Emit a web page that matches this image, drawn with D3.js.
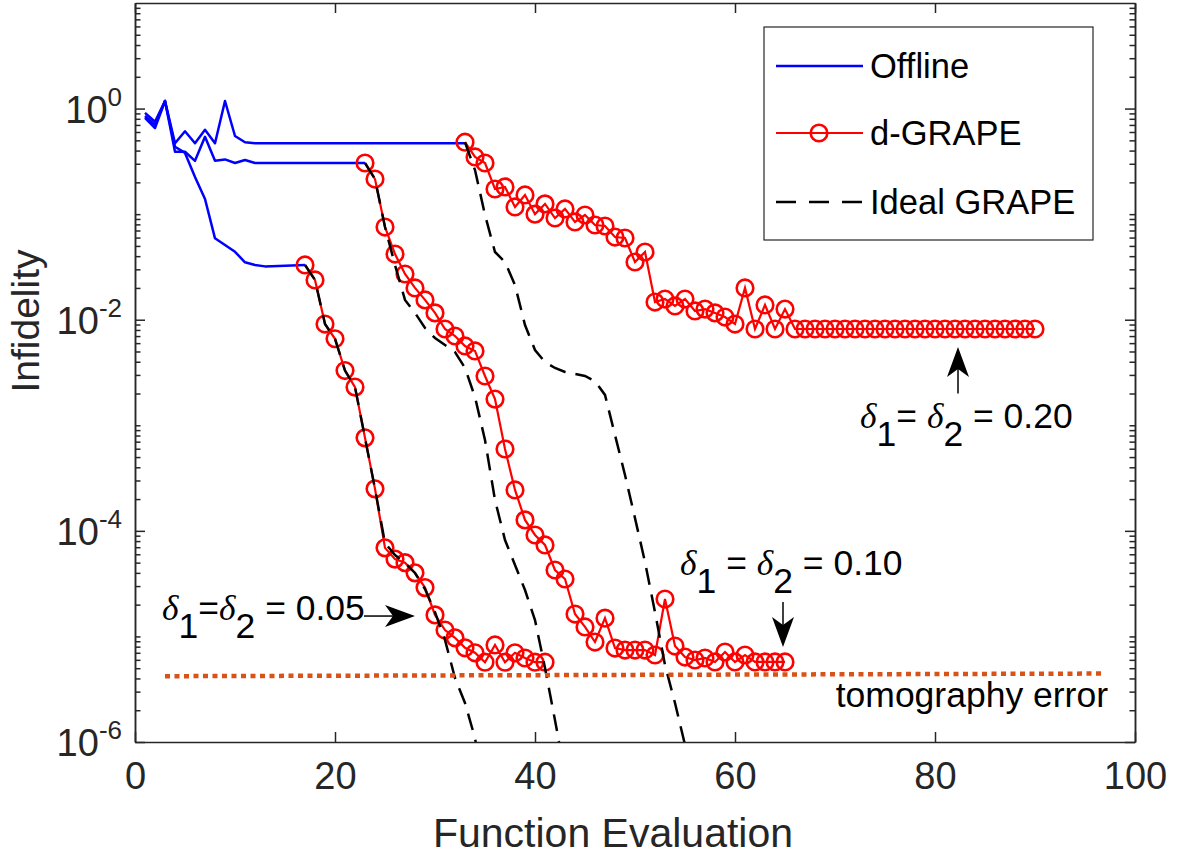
<!DOCTYPE html>
<html>
<head>
<meta charset="utf-8">
<script src="https://cdn.jsdelivr.net/npm/d3@7"></script>
<style>
  body { margin: 0; background: #fff; }
  text { font-family: "Liberation Sans", Arial, Helvetica, sans-serif; fill: #262626; }
</style>
</head>
<body>
<svg id="chart" width="1177" height="855"></svg>
<script>
// ---- data ----
// Offline runs: [x, infidelity] vertices
var offlineA = [[1,0.91],[2,0.75],[3,1.18],[4,0.47],[5,0.61],[6,0.47],[7,0.63],[8,0.47],[9,1.18],[10,0.55],[11,0.48],[12,0.47],[33,0.47]];
var offlineB = [[1,0.85],[2,0.70],[3,1.18],[4,0.39],[5,0.39],[6,0.32],[7,0.54],[8,0.32],[9,0.33],[10,0.305],[11,0.326],[12,0.305],[23,0.305]];
var offlineC = [[1,0.815],[2,0.654],[3,1.18],[4,0.435],[5,0.38],[6,0.225],[7,0.139],[8,0.059],[9,0.051],[10,0.044],[11,0.035],[12,0.033],[13,0.032],[17,0.033]];

// d-GRAPE runs, one point per function evaluation starting at *_start
var dgrape1_start = 17;
var dgrape1 = [0.033,0.0238,0.0091,0.0066,0.0033,0.0023,7.6e-4,2.5e-4,6.9e-5,5.4e-5,5.0e-5,4.0e-5,2.9e-5,1.6e-5,1.15e-5,9.7e-6,7.8e-6,7.0e-6,5.7e-6,8.3e-6,5.7e-6,7.0e-6,6.25e-6,5.7e-6,5.7e-6];
var dgrape2_start = 23;
var dgrape2 = [0.305,0.215,0.0755,0.0419,0.0271,0.0200,0.0154,0.0116,0.00817,0.00701,0.00564,0.00506,0.00293,0.00177,5.96e-4,2.44e-4,1.27e-4,9.14e-5,7.35e-5,4.26e-5,3.50e-5,1.63e-5,1.23e-5,8.85e-6,1.49e-5,7.76e-6,7.43e-6,7.43e-6,7.43e-6,6.67e-6,2.26e-5,8.11e-6,6.38e-6,5.98e-6,6.25e-6,5.73e-6,7.12e-6,5.73e-6,6.67e-6,5.73e-6,5.73e-6,5.73e-6,5.73e-6];
var dgrape3_start = 33;
var dgrape3 = [0.48,0.348,0.305,0.173,0.181,0.117,0.152,0.100,0.125,0.0919,0.112,0.0843,0.0982,0.0789,0.0772,0.0607,0.0594,0.0352,0.0438,0.0147,0.0157,0.0135,0.0157,0.0121,0.0126,0.0116,0.0106,0.0091,0.0200,0.00817,0.0138,0.00817,0.0126,
  0.00817,0.00817,0.00817,0.00817,0.00817,0.00817,0.00817,0.00817,0.00817,0.00817,0.00817,0.00817,0.00817,0.00817,0.00817,0.00817,0.00817,0.00817,0.00817,0.00817,0.00817,0.00817,0.00817,0.00817,0.00817];

// ideal GRAPE runs
var ideal1_start = 17;
var ideal1 = [0.033,0.0238,0.0091,0.0066,0.0033,0.0023,7.6e-4,2.5e-4,7.67e-5,5.9e-5,4.96e-5,3.99e-5,2.81e-5,1.70e-5,9.25e-6,4.04e-6,2.34e-6,1.09e-6,3e-7];
var ideal2_start = 23;
var ideal2 = [0.305,0.215,0.0755,0.033,0.0154,0.0116,0.00834,0.00671,0.00576,0.00494,0.00349,0.00185,7.26e-4,1.96e-4,8.19e-5,4.75e-5,2.75e-5,1.43e-5,5.02e-6,1.61e-6,4.9e-7];
var ideal3_start = 33;
var ideal3 = [0.48,0.262,0.0982,0.0438,0.0352,0.0213,0.0089,0.00516,0.00397,0.00349,0.0032,0.00306,0.00293,0.00262,0.00194,8.09e-4,3.38e-4,1.32e-4,5.07e-5,1.70e-5,5.36e-6,2.34e-6,9.4e-7];

// tomography error level
var tomoX = [3, 97];
var tomoY = [4.2e-6, 4.45e-6];

var xTicks = [0, 20, 40, 60, 80, 100];
var yExps = [0, -2, -4, -6];
var legendNames = ["Offline", "d-GRAPE", "Ideal GRAPE"];

// ---- layout ----
var svg = d3.select("#chart");
var mLeft = 135, mRight = 1135, mTop = 3, mBottom = 742;
var axisColor = "#262626";
var tickFs = 38, labelFs = 41, legendFs = 34.5, noteFs = 35.5;

var x = d3.scaleLinear().domain([0, 100]).range([mLeft, mRight]);
var y = d3.scaleLog().domain([1e-6, 10]).range([mBottom, mTop]);

function toPts(start, arr) {
  return arr.map(function(v, i) { return [start + i, v]; });
}

var line = d3.line().x(d => x(d[0])).y(d => y(d[1]));

svg.append("defs").append("clipPath").attr("id", "plotclip")
  .append("rect").attr("x", mLeft).attr("y", mTop).attr("width", mRight - mLeft).attr("height", mBottom - mTop);

var plot = svg.append("g").attr("clip-path", "url(#plotclip)");

// offline (blue)
[offlineA, offlineB, offlineC].forEach(function(d) {
  plot.append("path").datum(d).attr("d", line)
    .attr("fill", "none").attr("stroke", "#0000ff").attr("stroke-width", 2.5).attr("stroke-linejoin", "round");
});

// d-GRAPE (red line + circles)
var markerR = 8.3;
[[dgrape1_start, dgrape1], [dgrape2_start, dgrape2], [dgrape3_start, dgrape3]].forEach(function(s) {
  var pts = toPts(s[0], s[1]);
  plot.append("path").datum(pts).attr("d", line)
    .attr("fill", "none").attr("stroke", "#ff0000").attr("stroke-width", 2.2);
  plot.selectAll(null).data(pts).enter().append("circle")
    .attr("cx", d => x(d[0])).attr("cy", d => y(d[1])).attr("r", markerR)
    .attr("fill", "none").attr("stroke", "#ff0000").attr("stroke-width", 2.6);
});

// ideal GRAPE (black dashed)
[[ideal1_start, ideal1], [ideal2_start, ideal2], [ideal3_start, ideal3]].forEach(function(s) {
  plot.append("path").datum(toPts(s[0], s[1])).attr("d", line)
    .attr("fill", "none").attr("stroke", "#000").attr("stroke-width", 2.5)
    .attr("stroke-dasharray", "17,10");
});

// tomography error (orange dotted)
plot.append("path").datum(tomoX.map((v, i) => [v, tomoY[i]])).attr("d", line)
  .attr("fill", "none").attr("stroke", "#D95319").attr("stroke-width", 4.5)
  .attr("stroke-dasharray", "5,4.5");

// ---- axes ----
function styleAxis(g) {
  g.selectAll("path.domain").attr("stroke", axisColor).attr("stroke-width", 1.5);
  g.selectAll(".tick line").attr("stroke", axisColor).attr("stroke-width", 1.5);
  g.selectAll(".tick text").attr("fill", axisColor).style("font-size", tickFs + "px")
    .style("font-family", "'Liberation Sans', Arial, sans-serif");
}

svg.append("g").attr("transform", "translate(0," + mBottom + ")")
  .call(d3.axisBottom(x).tickValues(xTicks).tickSizeInner(-10).tickSizeOuter(0).tickPadding(20).tickFormat(d3.format("d")))
  .call(styleAxis);
svg.append("g").attr("transform", "translate(0," + mTop + ")")
  .call(d3.axisTop(x).tickValues(xTicks).tickSizeInner(-10).tickSizeOuter(0).tickFormat(""))
  .call(styleAxis);

var majorY = yExps.map(e => Math.pow(10, e));
var minorY = [];
for (var e = -6; e < 1; e++) {
  for (var k = 1; k < 10; k++) {
    var v = k * Math.pow(10, e);
    if (k === 1 && yExps.indexOf(e) >= 0) continue;
    minorY.push(v);
  }
}
svg.append("g").attr("transform", "translate(" + mLeft + ",0)")
  .call(d3.axisLeft(y).tickValues(majorY).tickSizeInner(-10).tickSizeOuter(0).tickFormat(""))
  .call(styleAxis);
svg.append("g").attr("transform", "translate(" + mLeft + ",0)")
  .call(d3.axisLeft(y).tickValues(minorY).tickSizeInner(-5.5).tickSizeOuter(0).tickFormat(""))
  .call(styleAxis);
svg.append("g").attr("transform", "translate(" + mRight + ",0)")
  .call(d3.axisRight(y).tickValues(majorY).tickSizeInner(-10).tickSizeOuter(0).tickFormat(""))
  .call(styleAxis);
svg.append("g").attr("transform", "translate(" + mRight + ",0)")
  .call(d3.axisRight(y).tickValues(minorY).tickSizeInner(-5.5).tickSizeOuter(0).tickFormat(""))
  .call(styleAxis);

// y tick labels 10^e
yExps.forEach(function(e) {
  var t = svg.append("text").attr("x", mLeft - 13).attr("y", y(Math.pow(10, e)) + 14)
    .attr("text-anchor", "end").style("font-size", tickFs + "px");
  t.append("tspan").text("10");
  t.append("tspan").attr("dy", -17).style("font-size", "26px").text(String(e));
});

// axis titles
svg.append("text").attr("x", 613).attr("y", 847)
  .attr("text-anchor", "middle").style("font-size", labelFs + "px").text("Function Evaluation");
svg.append("text").attr("transform", "translate(39,321) rotate(-90)")
  .attr("text-anchor", "middle").style("font-size", "39px").text("Infidelity");

// ---- legend ----
var lg = svg.append("g");
lg.append("rect").attr("x", 764).attr("y", 27).attr("width", 329).attr("height", 213)
  .attr("fill", "#fff").attr("stroke", axisColor).attr("stroke-width", 1.2);
var rows = [66, 133, 202];
lg.append("line").attr("x1", 776).attr("x2", 863).attr("y1", rows[0]).attr("y2", rows[0])
  .attr("stroke", "#0000ff").attr("stroke-width", 2.5);
lg.append("line").attr("x1", 776).attr("x2", 863).attr("y1", rows[1]).attr("y2", rows[1])
  .attr("stroke", "#ff0000").attr("stroke-width", 2.2);
lg.append("circle").attr("cx", 819).attr("cy", rows[1]).attr("r", markerR)
  .attr("fill", "none").attr("stroke", "#ff0000").attr("stroke-width", 2.6);
lg.append("line").attr("x1", 776).attr("x2", 863).attr("y1", rows[2]).attr("y2", rows[2])
  .attr("stroke", "#000").attr("stroke-width", 2.5).attr("stroke-dasharray", "20,13");
legendNames.forEach(function(n, i) {
  lg.append("text").attr("x", 870).attr("y", rows[i] + 12).style("font-size", legendFs + "px")
    .style("fill", "#000").text(n);
});

// ---- annotations ----
function deltaLabel(px, py, parts) {
  var t = svg.append("text").attr("x", px).attr("y", py).style("font-size", noteFs + "px");
  parts.forEach(function(p) {
    var s = t.append("tspan").text(p.t);
    if (p.greek) s.style("font-family", "'Liberation Serif', 'DejaVu Serif', serif").style("font-style", "italic");
    if (p.dy) s.attr("dy", p.dy);
  });
  t.selectAll("tspan").style("fill", "#000");
}
var subs = 18;
function deltaParts(eq1, eq2, val) {
  return [
    {t: "\u03b4", greek: true}, {t: "1", dy: subs}, {t: eq1, dy: -subs},
    {t: "\u03b4", greek: true}, {t: "2", dy: subs}, {t: eq2 + val, dy: -subs}
  ];
}

function arrow(x1, y1, x2, y2) {
  var X1 = x(x1), Y1 = y(y1), X2 = x(x2), Y2 = y(y2);
  var ang = Math.atan2(Y2 - Y1, X2 - X1);
  var L = 30, W = 11, N = 22;
  svg.append("line").attr("x1", X1).attr("y1", Y1)
    .attr("x2", X2 - Math.cos(ang) * N).attr("y2", Y2 - Math.sin(ang) * N)
    .attr("stroke", "#000").attr("stroke-width", 1.5);
  var g = svg.append("g").attr("transform", "translate(" + X2 + "," + Y2 + ") rotate(" + (ang * 180 / Math.PI) + ")");
  g.append("path").attr("d", "M0,0 L" + (-L) + "," + (-W) + " L" + (-N) + ",0 L" + (-L) + "," + W + " Z").attr("fill", "#000");
}

deltaLabel(x(72.5), y(9.4e-4), deltaParts("= ", " = ", "0.20"));
arrow(82.3, 2.0e-3, 82.3, 5.5e-3);

deltaLabel(x(54.5), y(3.82e-5), deltaParts(" = ", " = ", "0.10"));
arrow(64.8, 2.12e-5, 64.8, 7.94e-6);

deltaLabel(x(2.7), y(1.43e-5), deltaParts("=", " = ", "0.05"));
arrow(22.9, 1.56e-5, 28.0, 1.56e-5);

svg.append("text").attr("x", x(97.3)).attr("y", y(2.14e-6)).attr("text-anchor", "end")
  .style("font-size", noteFs + "px").style("fill", "#000").text("tomography error");
</script>
</body>
</html>
